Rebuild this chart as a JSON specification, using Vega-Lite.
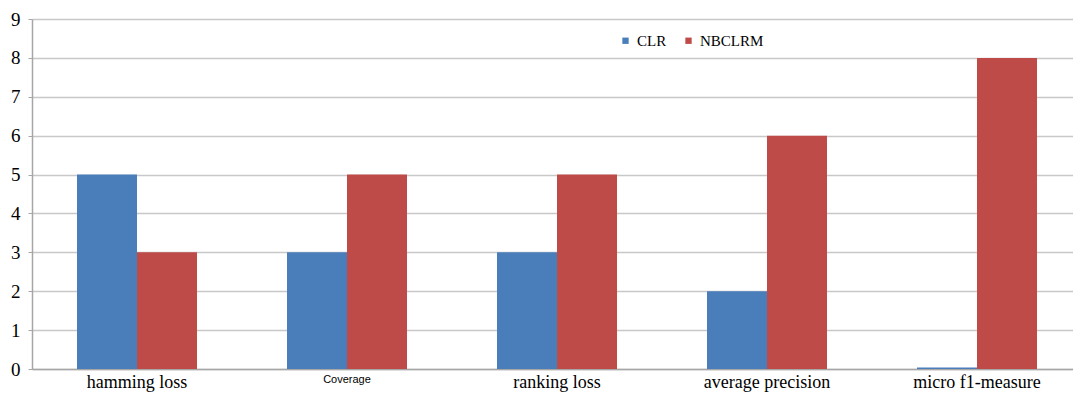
{
  "$schema": "https://vega.github.io/schema/vega-lite/v6.json",
  "width": 1050,
  "height": 350,
  "autosize": {"type": "none"},
  "padding": {"left": 32, "top": 19, "right": 0, "bottom": 25},
  "background": "white",
  "config": {
    "view": {"stroke": null},
    "font": "Liberation Serif"
  },
  "data": {
    "values": [
      {"metric": "hamming loss", "method": "CLR", "score": 5},
      {"metric": "hamming loss", "method": "NBCLRM", "score": 3},
      {"metric": "Coverage", "method": "CLR", "score": 3},
      {"metric": "Coverage", "method": "NBCLRM", "score": 5},
      {"metric": "ranking loss", "method": "CLR", "score": 3},
      {"metric": "ranking loss", "method": "NBCLRM", "score": 5},
      {"metric": "average precision", "method": "CLR", "score": 2},
      {"metric": "average precision", "method": "NBCLRM", "score": 6},
      {"metric": "micro f1-measure", "method": "CLR", "score": 0.04},
      {"metric": "micro f1-measure", "method": "NBCLRM", "score": 8}
    ]
  },
  "mark": {"type": "bar"},
  "encoding": {
    "x": {
      "field": "metric",
      "type": "nominal",
      "sort": null,
      "scale": {"paddingInner": 0.4286, "paddingOuter": 0.2143},
      "axis": {
        "title": null,
        "labelAngle": 0,
        "labelFont": {"condition": {"test": "datum.value === 'Coverage'", "value": "Liberation Sans"}, "value": "Liberation Serif"},
        "labelFontSize": {"condition": {"test": "datum.value === 'Coverage'", "value": 11}, "value": 18},
        "labelColor": "#000000",
        "labelPadding": 4,
        "ticks": false,
        "domainColor": "#a6a6a6",
        "domainWidth": 1.5
      }
    },
    "xOffset": {"field": "method", "type": "nominal", "sort": ["CLR", "NBCLRM"]},
    "y": {
      "field": "score",
      "type": "quantitative",
      "scale": {"domain": [0, 9], "nice": false},
      "axis": {
        "title": null,
        "values": [0, 1, 2, 3, 4, 5, 6, 7, 8, 9],
        "labelFontSize": 19,
        "labelColor": "#000000",
        "labelPadding": 8,
        "tickSize": 4,
        "tickColor": "#a6a6a6",
        "domainColor": "#a6a6a6",
        "domainWidth": 1.5,
        "gridColor": "#c8c8c8",
        "gridWidth": 1.5
      }
    },
    "color": {
      "field": "method",
      "type": "nominal",
      "sort": ["CLR", "NBCLRM"],
      "scale": {"domain": ["CLR", "NBCLRM"], "range": ["#4a7ebb", "#be4b48"]},
      "legend": {
        "title": null,
        "orient": "none",
        "legendX": 586,
        "legendY": 14,
        "direction": "horizontal",
        "symbolType": "square",
        "symbolSize": 40,
        "symbolStrokeWidth": 0,
        "labelFontSize": 15,
        "labelColor": "#000000",
        "columnPadding": 14,
        "labelOffset": 4
      }
    }
  }
}
